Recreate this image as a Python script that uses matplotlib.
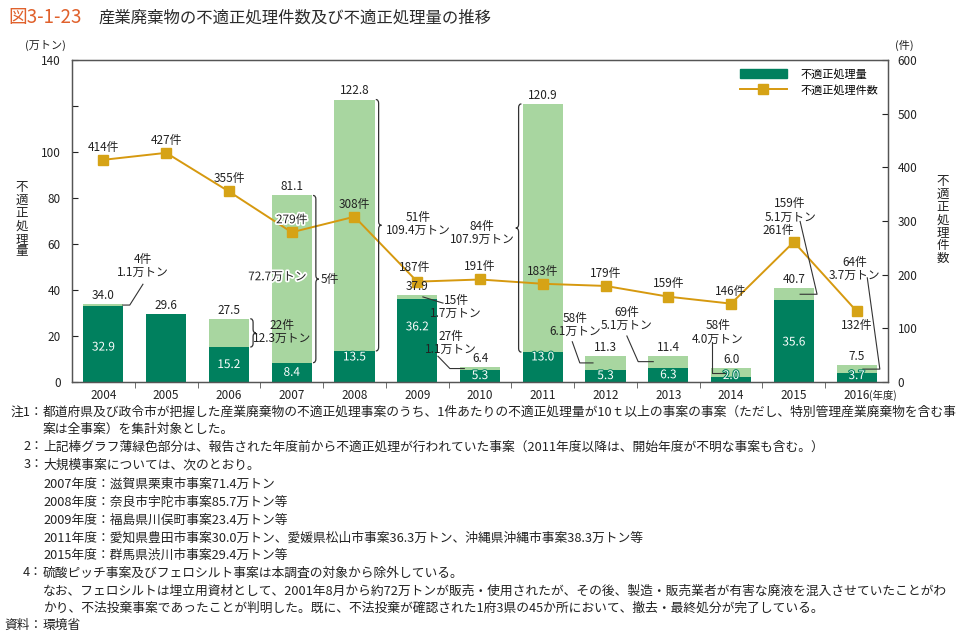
import numpy as np
import matplotlib.pyplot as plt
import matplotlib.patheffects as pe
from matplotlib.patches import Patch, PathPatch
from matplotlib.lines import Line2D
from matplotlib.path import Path

plt.rcParams['font.family'] = ['Noto Sans CJK JP', 'DejaVu Sans']

# data
years = ['2004', '2005', '2006', '2007', '2008', '2009', '2010',
         '2011', '2012', '2013', '2014', '2015', '2016']
total = [34.0, 29.6, 27.5, 81.1, 122.8, 37.9, 6.4, 120.9, 11.3, 11.4, 6.0, 40.7, 7.5]
new_part = [32.9, 29.6, 15.2, 8.4, 13.5, 36.2, 5.3, 13.0, 5.3, 6.3, 2.0, 35.6, 3.7]
counts = [414, 427, 355, 279, 308, 187, 191, 183, 179, 159, 146, 261, 132]
# cases that started before the reported year (light green part)
old_counts = ['4件', None, '22件', '5件', '51件', '15件', '27件', '84件',
              '58件', '69件', '58件', '159件', '64件']
old_amounts = ['1.1万トン', None, '12.3万トン', '72.7万トン', '109.4万トン', '1.7万トン',
               '1.1万トン', '107.9万トン', '6.1万トン', '5.1万トン', '4.0万トン',
               '5.1万トン', '3.7万トン']

notes = [
    ('注1：', '都道府県及び政令市が把握した産業廃棄物の不適正処理事案のうち、1件あたりの不適正処理量が10ｔ以上の事案の事案（ただし、特別管理産業廃棄物を含む事'),
    ('', '案は全事案）を集計対象とした。'),
    ('2：', '上記棒グラフ薄緑色部分は、報告された年度前から不適正処理が行われていた事案（2011年度以降は、開始年度が不明な事案も含む。）'),
    ('3：', '大規模事案については、次のとおり。'),
    ('', '2007年度：滋賀県栗東市事案71.4万トン'),
    ('', '2008年度：奈良市宇陀市事案85.7万トン等'),
    ('', '2009年度：福島県川俣町事案23.4万トン等'),
    ('', '2011年度：愛知県豊田市事案30.0万トン、愛媛県松山市事案36.3万トン、沖縄県沖縄市事案38.3万トン等'),
    ('', '2015年度：群馬県渋川市事案29.4万トン等'),
    ('4：', '硫酸ピッチ事案及びフェロシルト事案は本調査の対象から除外している。'),
    ('', 'なお、フェロシルトは埋立用資材として、2001年8月から約72万トンが販売・使用されたが、その後、製造・販売業者が有害な廃液を混入させていたことがわ'),
    ('', 'かり、不法投棄事案であったことが判明した。既に、不法投棄が確認された1府3県の45か所において、撤去・最終処分が完了している。'),
    ('資料：', '環境省'),
]
note_y = [412, 429, 447, 465, 484, 502, 520, 538, 555, 573, 591, 608, 625]

DARK = '#00805E'
LIGHT = '#A8D6A0'
ORANGE = '#D6990F'
MARK = '#D6A316'
TXT = '#222222'
W, H = 959, 637

fig = plt.figure(figsize=(W / 100, H / 100), dpi=100)
ax = fig.add_axes([72 / W, 1 - 382 / H, (888 - 72) / W, (382 - 60) / H])
x = np.arange(len(years))
light = [t - n for t, n in zip(total, new_part)]

ax.bar(x, new_part, width=0.64, color=DARK, zorder=2)
ax.bar(x, light, bottom=new_part, width=0.64, color=LIGHT, zorder=2)
ax.set_xlim(-0.5, 12.5)
ax.set_ylim(0, 140)
ax.set_yticks(range(0, 141, 20))
ax.set_yticklabels(['' if v == 120 else str(v) for v in range(0, 141, 20)])
ax.set_xticks(x)
ax.set_xticklabels(years)
ax.set_xticks(np.arange(0.5, 12, 1), minor=True)
ax.tick_params(axis='x', which='major', length=0, pad=5, labelsize=8.5, colors=TXT)
ax.tick_params(axis='x', which='minor', length=4, direction='out', color='#555555')
ax.tick_params(axis='y', length=4, direction='in', pad=8, labelsize=8.5, colors=TXT)
for s in ax.spines.values():
    s.set_color('#555555')
    s.set_linewidth(0.9)

ax2 = ax.twinx()
ax2.plot(x, counts, color=ORANGE, lw=1.4, marker='s', ms=6.5,
         markerfacecolor=MARK, markeredgecolor=MARK, zorder=3)
ax2.set_ylim(0, 600)
ax2.set_yticks(range(0, 601, 100))
ax2.tick_params(axis='y', length=4, direction='in', pad=7, labelsize=8.5, colors=TXT)
for s in ax2.spines.values():
    s.set_color('#555555')
    s.set_linewidth(0.9)

T = ax.transData
halo_w = [pe.withStroke(linewidth=2.5, foreground='white')]

# count labels on the line (offsets in points)
cnt_off = {11: (-11, 8), 12: (0, -10), 5: (-2, 10), 9: (0, 9.5)}
for i, c in enumerate(counts):
    dx, dy = cnt_off.get(i, (0, 9))
    ax2.annotate(f'{c}件', (i, c), xytext=(dx, dy), textcoords='offset points',
                 ha='center', va='center', fontsize=8.5, color=TXT, zorder=5,
                 path_effects=halo_w if i == 3 else None)

# totals above bars and values inside the dark part
inner_y = {4: 10.9, 5: 24.0, 7: 10.9, 0: 15.2, 11: 17.4}
for i in x:
    ax2.annotate(f'{total[i]:.1f}', (i, total[i]), xycoords=T, xytext=(0, 1.5),
                 textcoords='offset points', ha='center', va='bottom',
                 fontsize=8.5, color=TXT, zorder=5)
    if light[i] > 0:
        yy = inner_y.get(i, max(new_part[i] / 2, 2.8))
        ax2.text(i, yy, f'{new_part[i]:.1f}', transform=T, ha='center', va='center',
                 fontsize=8.5, color='white', zorder=5,
                 path_effects=[pe.withStroke(linewidth=1.5, foreground=DARK)])


def brace(i, side, w=0.09, c=1.6):
    x0 = i + side * 0.34
    y0, y1 = new_part[i], total[i]
    xm, xt, ym = x0 + side * w / 2, x0 + side * w, (y0 + y1) / 2
    verts = [(x0, y1), (xm, y1), (xm, y1 - c), (xm, ym + c), (xm, ym), (xt, ym),
             (xm, ym), (xm, ym - c), (xm, y0 + c), (xm, y0), (x0, y0)]
    codes = [Path.MOVETO, Path.CURVE3, Path.CURVE3, Path.LINETO, Path.CURVE3, Path.CURVE3,
             Path.CURVE3, Path.CURVE3, Path.LINETO, Path.CURVE3, Path.CURVE3]
    ax2.add_patch(PathPatch(Path(verts, codes), transform=T, fill=False,
                            edgecolor='#333333', lw=0.9, zorder=4))
    return xt, ym


def leader(pts):
    xs, ys = zip(*pts)
    ax2.add_line(Line2D(xs, ys, transform=T, color='#333333', lw=0.8, zorder=4))


def mid_light(i):
    return (new_part[i] + total[i]) / 2


def case_text(i, px, py, ha='center'):
    ax2.text(px, py, f'{old_counts[i]}\n{old_amounts[i]}', transform=T, ha=ha,
             va='center', multialignment='center', fontsize=8.5, color=TXT,
             linespacing=1.05, zorder=5)


# braces for the large light parts
brace(2, 1)
case_text(2, 2.85, 21.7)
xt, ym = brace(3, 1)
ax2.text(xt + 0.03, ym, old_counts[3], transform=T, ha='left', va='center',
         fontsize=8.5, color=TXT, zorder=5)
ax2.text(2.77, ym + 1, old_amounts[3], transform=T, ha='center', va='center',
         fontsize=8.5, color=TXT, zorder=5, path_effects=halo_w)
brace(4, 1)
case_text(4, 5.01, 68.7)
brace(7, -1)
case_text(7, 6.03, 64.8)

# leader lines for small light parts
case_text(0, 0.63, 50.4)
leader([(0.31, mid_light(0)), (0.42, mid_light(0)), (0.63, 42.5)])
case_text(5, 5.62, 32.6)
leader([(5.09, 37.0), (5.41, 34.3)])
case_text(6, 5.54, 17.0)
leader([(5.33, 11.2), (5.52, mid_light(6)), (5.75, mid_light(6))])
case_text(8, 7.51, 24.8)
leader([(7.47, 17.5), (7.59, mid_light(8)), (7.80, mid_light(8))])
case_text(9, 8.34, 27.4)
leader([(8.34, 20.0), (8.52, mid_light(9)), (8.76, mid_light(9))])
case_text(10, 9.79, 21.5)
leader([(9.70, 17.2), (9.70, mid_light(10)), (9.93, mid_light(10))])
case_text(11, 10.94, 74.6)
leader([(11.10, 69.8), (11.37, mid_light(11)), (11.10, mid_light(11))])
case_text(12, 11.97, 49.1)
leader([(12.17, 45.3), (12.37, mid_light(12)), (12.10, mid_light(12))])

# legend
ax2.legend(handles=[Patch(color=DARK),
                    Line2D([], [], color=ORANGE, lw=1.4, marker='s', ms=6.5,
                           markerfacecolor=MARK, markeredgecolor=MARK)],
           labels=['不適正処理量', '不適正処理件数'], loc='upper right',
           bbox_to_anchor=(1.0, 1.005), frameon=False, fontsize=8,
           handlelength=4.2, handleheight=1.0, handletextpad=1.2, labelspacing=0.5)


def ftext(px, py, s, **kw):
    fig.text(px / W, 1 - py / H, s, **kw)


ftext(869, 395, '(年度)', ha='left', va='center', fontsize=7.5, color=TXT)
ftext(45, 45, '(万トン)', ha='center', va='center', fontsize=8, color=TXT)
ftext(904, 45, '(件)', ha='center', va='center', fontsize=8, color=TXT)
ftext(22, 220, '\n'.join('不適正処理量'), ha='center', va='center', fontsize=9,
      color=TXT, linespacing=0.98)
ftext(943, 220, '\n'.join('不適正処理件数'), ha='center', va='center', fontsize=9,
      color=TXT, linespacing=0.98)

# title
ftext(8, 18, '図3-1-23', ha='left', va='center', fontsize=13.5, color='#E0612C')
ftext(99, 18, '産業廃棄物の不適正処理件数及び不適正処理量の推移', ha='left',
      va='center', fontsize=11.8, color='#2B2B2B')

# notes
for (head, body), py in zip(notes, note_y):
    if head:
        ftext(43, py, head, ha='right', va='center', fontsize=9.2, color=TXT)
    ftext(43, py, body, ha='left', va='center', fontsize=9.2, color=TXT)

fig.savefig('out.png', dpi=100)
